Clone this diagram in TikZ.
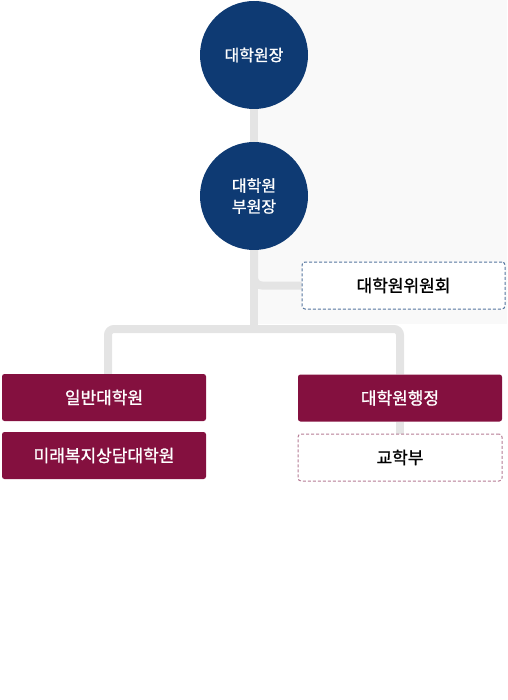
\documentclass[tikz,border=0pt]{standalone}
\usepackage{fontspec}
\newfontfamily\kr[FakeBold=1.2]{Noto Sans CJK KR}
\usetikzlibrary{backgrounds}
\definecolor{navy}{HTML}{0E3A73}
\definecolor{wine}{HTML}{84103F}
\definecolor{linegray}{HTML}{E4E4E4}
\definecolor{panelgray}{HTML}{F9F9F9}
\definecolor{dashblue}{HTML}{56769F}
\definecolor{dashpink}{HTML}{B67C95}

\begin{document}
\begin{tikzpicture}[x=1pt,y=-1pt,
  head/.style={circle,fill=navy,minimum size=108pt,inner sep=0pt,text=white,font=\kr\fontsize{16}{21}\selectfont,align=center},
  unit/.style={rectangle,rounded corners=2.5pt,fill=wine,minimum width=204pt,minimum height=47pt,inner sep=0pt,text=white,font=\kr\fontsize{17}{20}\selectfont},
  sub/.style={rectangle,rounded corners=3pt,fill=white,draw,line width=1pt,dash pattern=on 3pt off 2pt,minimum height=47pt,inner sep=0pt,font=\kr\fontsize{17}{20}\selectfont},
  link/.style={draw=linegray,line width=8pt}]
\useasboundingbox (0,0) rectangle (507,700);
\node[head] (jang) at (254,55) {대학원장};
\node[head] (bu) at (254,196) {대학원\\부원장};
\node[sub,draw=dashblue,minimum width=203pt] (wiwon) at (403.5,285.5) {대학원위원회};
\node[unit] (ilban) at (104,397.5) {일반대학원};
\node[unit] (mirae) at (104,455.5) {미래복지상담대학원};
\node[unit] (haeng) at (400,398) {대학원행정};
\node[sub,draw=dashpink,minimum width=204pt] (gyohak) at (400,457.5) {교학부};
\coordinate (split) at (254,329);
\begin{scope}[on background layer]
\fill[panelgray] (256,0) rectangle (507,324);
\draw[link] (jang) -- (bu);
\draw[link] (bu) -- (split);
\draw[link,rounded corners=8pt] (bu.south) |- (wiwon.west);
\draw[link,rounded corners=6pt] ([xshift=4pt]ilban.north) |- (split) -| (haeng.north);
\draw[link] (haeng.south) -- (gyohak.north);
\end{scope}
\end{tikzpicture}
\end{document}
